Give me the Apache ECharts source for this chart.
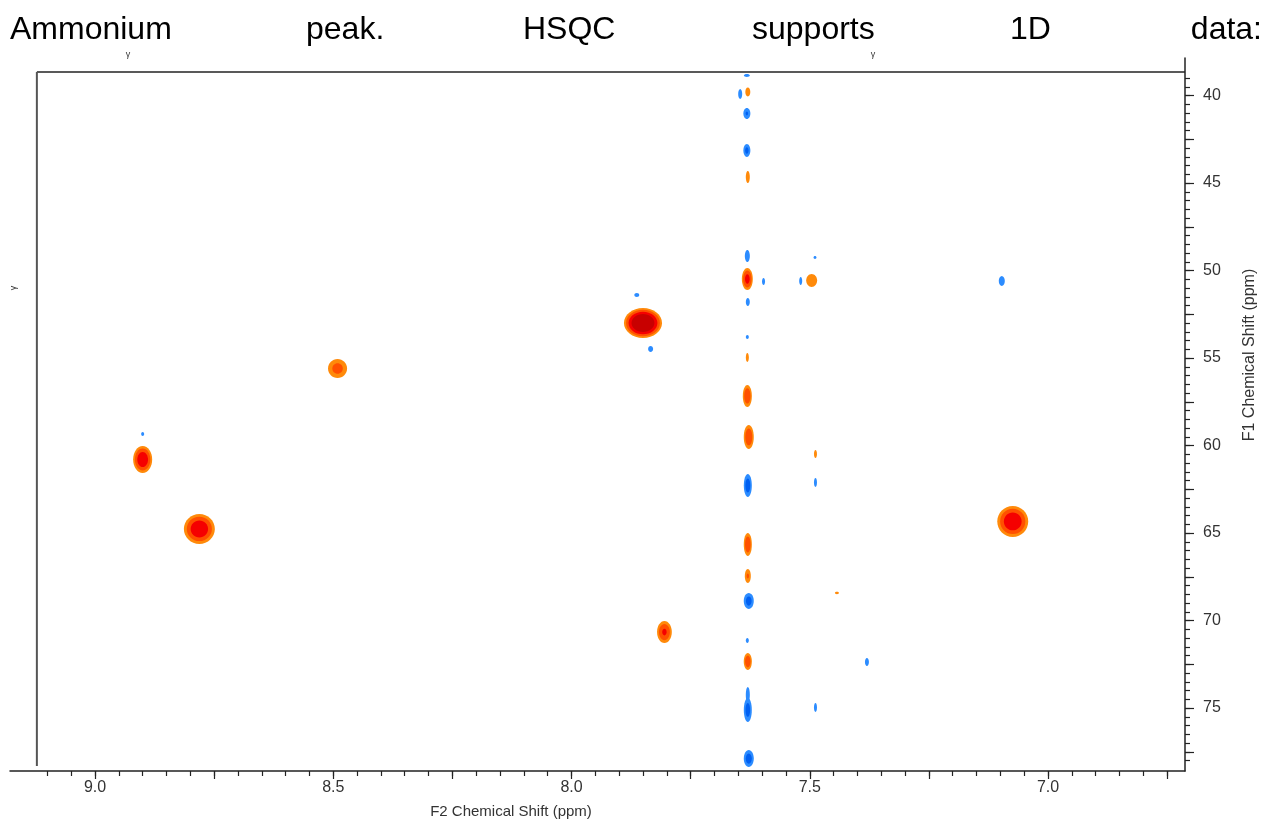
<!DOCTYPE html>
<html><head><meta charset="utf-8">
<script src="https://cdn.jsdelivr.net/npm/echarts@6/dist/echarts.min.js"></script>
<style>html,body{margin:0;padding:0;background:#fff}#c{width:1264px;height:825px}</style>
</head><body><div id="c"></div>
<script>
// ---------- text ----------
const titleWords = ['Ammonium', 'peak.', 'HSQC', 'supports', '1D', 'data:'];
const xAxisName = 'F2 Chemical Shift (ppm)';
const yAxisName = 'F1 Chemical Shift (ppm)';
const cornerMark = 'γ';

// ---------- axes (ppm) ----------
const xRange = [6.7125, 9.1784];
const yRange = [37.857, 78.6];
const frameF2 = 9.122;   // inner frame (left edge of spectrum window)
const frameF1 = 38.66;   // inner frame (top edge of spectrum window)
const xLabelValues = [7.0, 7.5, 8.0, 8.5, 9.0];
const xMajorTicks = [6.75, 7.0, 7.25, 7.5, 7.75, 8.0, 8.25, 8.5, 8.75, 9.0];
const yLabelValues = [40, 45, 50, 55, 60, 65, 70, 75];
const yMajorTicks = [40, 42.5, 45, 47.5, 50, 52.5, 55, 57.5, 60, 62.5, 65, 67.5, 70, 72.5, 75, 77.5];
const xMinorTicks = []; for (let k = 135; k <= 182; k++) xMinorTicks.push(k / 20);
const yMinorTicks = []; for (let k = 78; k <= 156; k++) yMinorTicks.push(k / 2);

// ---------- peaks: [F2 ppm, F1 ppm, F2 width ppm, F1 width ppm, amplitude (contour units)] ----------
const positivePeaks = [
  [8.900, 60.80, 0.040, 1.54, 7.6],
  [8.781, 64.77, 0.065, 1.71, 7.6],
  [8.491, 55.60, 0.040, 1.09, 2.7],
  [7.850, 53.00, 0.080, 1.71, 26],
  [7.805, 70.66, 0.031, 1.26, 4.6],
  [7.074, 64.34, 0.065, 1.77, 7.9],
  [7.630, 39.80, 0.0105, 0.51, 1.5],
  [7.630, 44.66, 0.0084, 0.69, 1.5],
  [7.631, 50.49, 0.023, 1.26, 5.5],
  [7.631, 54.97, 0.0063, 0.51, 1.3],
  [7.631, 57.17, 0.019, 1.26, 3.8],
  [7.628, 59.51, 0.021, 1.37, 3.9],
  [7.630, 65.66, 0.017, 1.31, 3.8],
  [7.630, 67.46, 0.0126, 0.80, 2.2],
  [7.630, 72.34, 0.017, 0.97, 3.6],
  [7.496, 50.57, 0.023, 0.74, 1.6],
  [7.488, 60.49, 0.0063, 0.46, 1.3],
  [7.443, 68.43, 0.0084, 0.11, 1.2]
];
const negativePeaks = [
  [7.632, 38.86, 0.0126, 0.17, -1.3],
  [7.646, 39.91, 0.0084, 0.57, -1.3],
  [7.632, 41.03, 0.0147, 0.63, -2.2],
  [7.632, 43.14, 0.0147, 0.74, -2.5],
  [7.631, 49.17, 0.0105, 0.69, -2.0],
  [7.597, 50.63, 0.0063, 0.40, -1.3],
  [7.519, 50.60, 0.0063, 0.46, -1.3],
  [7.489, 49.26, 0.0063, 0.17, -1.2],
  [7.630, 51.80, 0.0084, 0.46, -1.5],
  [7.631, 53.80, 0.0063, 0.23, -1.2],
  [7.630, 62.29, 0.0168, 1.31, -3.0],
  [7.488, 62.11, 0.0063, 0.51, -1.3],
  [7.628, 68.89, 0.021, 0.91, -2.8],
  [7.631, 71.14, 0.0063, 0.29, -1.2],
  [7.630, 74.26, 0.0084, 0.91, -1.5],
  [7.630, 75.11, 0.0168, 1.37, -2.8],
  [7.488, 74.97, 0.0063, 0.51, -1.3],
  [7.628, 77.89, 0.021, 0.97, -3.0],
  [7.380, 72.37, 0.0084, 0.46, -1.5],
  [7.863, 51.40, 0.0105, 0.23, -1.3],
  [7.834, 54.49, 0.0105, 0.34, -1.5],
  [8.900, 59.34, 0.0063, 0.23, -1.2],
  [7.097, 50.60, 0.0126, 0.57, -2.0]
];
const contourLevels = [1, 2, 4, 8];
const positiveColors = ['#FF8A0A', '#FF5000', '#F50000', '#C80000'];
const negativeColors = ['#2C8CFF', '#0060F2', '#0048DC', '#0038C0'];

const FONT = '"Liberation Sans", Arial, sans-serif';
const chart = echarts.init(document.getElementById('c'), null, {renderer: 'canvas'});

function renderPeak(params, api) {
  const x = api.value(0), y = api.value(1), w = api.value(2), h = api.value(3), a = api.value(4);
  const c = api.coord([x, y]);
  const s = api.size([w, h], [x, y]);
  const amp = Math.abs(a);
  const colors = a > 0 ? positiveColors : negativeColors;
  const children = [];
  contourLevels.forEach(function (L, i) {
    if (amp <= L) return;
    const f = L === 1 ? 1 : Math.sqrt(Math.log(amp / L) / Math.log(amp));
    children.push({
      type: 'ellipse',
      shape: {cx: c[0], cy: c[1], rx: Math.max(1.2, Math.abs(s[0]) / 2 * f), ry: Math.max(1.2, Math.abs(s[1]) / 2 * f)},
      style: {fill: colors[i]}
    });
  });
  return {type: 'group', children: children};
}

const axisLineStyle = {color: '#222', width: 1.5};
const option = {
  animation: false,
  backgroundColor: '#fff',
  grid: {left: 10, right: 79, top: 58, bottom: 54, containLabel: false},
  xAxis: [
    {
      type: 'value', min: xRange[0], max: xRange[1], inverse: true, position: 'bottom',
      axisLine: {show: true, lineStyle: axisLineStyle},
      axisTick: {show: true, customValues: xMajorTicks, length: 8, lineStyle: {color: '#222', width: 1.2}},
      axisLabel: {show: true, customValues: xLabelValues, formatter: v => Number(v).toFixed(1),
        fontSize: 16, fontFamily: FONT, color: '#333', margin: 9},
      splitLine: {show: false}
    },
    {
      type: 'value', min: xRange[0], max: xRange[1], inverse: true, position: 'bottom', gridIndex: 0,
      axisLine: {show: false},
      axisTick: {show: true, customValues: xMinorTicks, length: 5, lineStyle: {color: '#222', width: 1.2}},
      axisLabel: {show: false}, splitLine: {show: false}
    }
  ],
  yAxis: [
    {
      type: 'value', min: yRange[0], max: yRange[1], inverse: true, position: 'right',
      axisLine: {show: true, lineStyle: axisLineStyle},
      axisTick: {show: true, customValues: yMajorTicks, length: 9, lineStyle: {color: '#222', width: 1.2}},
      axisLabel: {show: true, customValues: yLabelValues, formatter: v => String(Math.round(v)),
        fontSize: 16, fontFamily: FONT, color: '#333', margin: 18},
      splitLine: {show: false}
    },
    {
      type: 'value', min: yRange[0], max: yRange[1], inverse: true, position: 'right', gridIndex: 0,
      axisLine: {show: false},
      axisTick: {show: true, customValues: yMinorTicks, length: 5, lineStyle: {color: '#222', width: 1.2}},
      axisLabel: {show: false}, splitLine: {show: false}
    }
  ],
  series: [
    {type: 'custom', name: 'positive', xAxisIndex: 0, yAxisIndex: 0, clip: true, renderItem: renderPeak, data: positivePeaks},
    {type: 'custom', name: 'negative', xAxisIndex: 0, yAxisIndex: 0, clip: true, renderItem: renderPeak, data: negativePeaks}
  ]
};
chart.setOption(option);

// frame lines and text placed after axes exist
const fx = chart.convertToPixel({xAxisIndex: 0}, frameF2);
const fy = chart.convertToPixel({yAxisIndex: 0}, frameF1);
const gx1 = chart.convertToPixel({xAxisIndex: 0}, xRange[0]);
const gy1 = chart.convertToPixel({yAxisIndex: 0}, yRange[1]);
const titleLeft = [10, 306, 523, 752, 1010, 1262];
const graphics = [];
titleWords.forEach(function (w, i) {
  const last = i === titleWords.length - 1;
  graphics.push({type: 'text', x: titleLeft[i], y: 30, silent: true,
    style: {text: w, fontSize: 32, fontFamily: FONT, fill: '#000', align: last ? 'right' : 'left', verticalAlign: 'middle'}});
});
graphics.push({type: 'line', silent: true, shape: {x1: fx, y1: fy, x2: gx1, y2: fy}, style: {stroke: '#222', lineWidth: 1.5}});
graphics.push({type: 'line', silent: true, shape: {x1: fx, y1: fy, x2: fx, y2: gy1 - 5}, style: {stroke: '#555', lineWidth: 2}});
graphics.push({type: 'text', x: 511, y: 812, silent: true,
  style: {text: xAxisName, fontSize: 15, fontFamily: FONT, fill: '#333', align: 'center', verticalAlign: 'middle'}});
graphics.push({type: 'text', x: 1250, y: 355, rotation: Math.PI / 2, silent: true,
  style: {text: yAxisName, fontSize: 16, fontFamily: FONT, fill: '#333', align: 'center', verticalAlign: 'middle'}});
graphics.push({type: 'text', x: 128, y: 55, silent: true, style: {text: cornerMark, fontSize: 9, fontFamily: FONT, fill: '#333', align: 'center', verticalAlign: 'middle'}});
graphics.push({type: 'text', x: 873, y: 55, silent: true, style: {text: cornerMark, fontSize: 9, fontFamily: FONT, fill: '#333', align: 'center', verticalAlign: 'middle'}});
graphics.push({type: 'text', x: 14, y: 288, rotation: Math.PI / 2, silent: true, style: {text: cornerMark, fontSize: 9, fontFamily: FONT, fill: '#333', align: 'center', verticalAlign: 'middle'}});
chart.setOption({graphic: graphics});
</script>
</body></html>
